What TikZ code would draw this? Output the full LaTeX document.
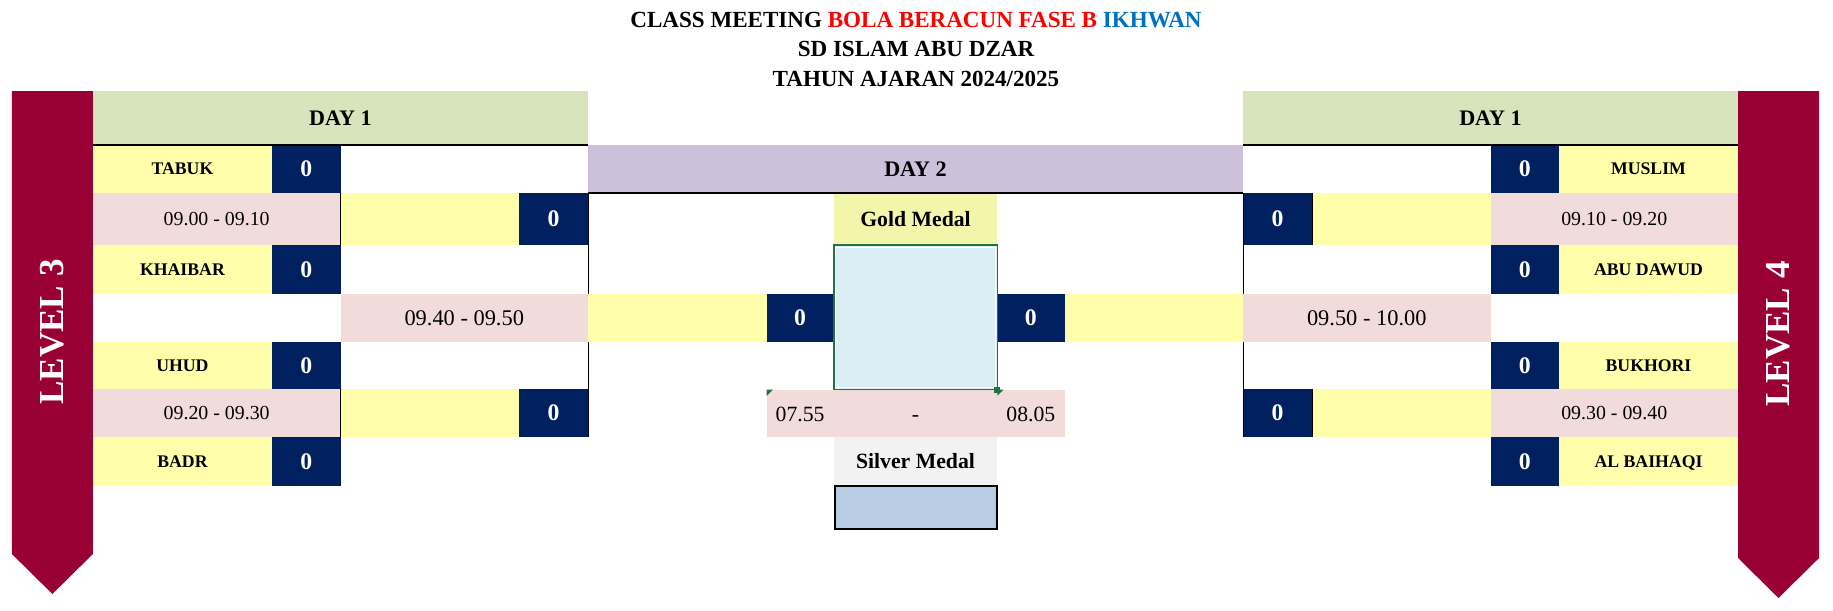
\documentclass[tikz,border=0pt]{standalone}
\usepackage{fontspec}
\setmainfont{Liberation Serif}
\usetikzlibrary{positioning}
\definecolor{bkmaroon}{RGB}{153,0,51}
\definecolor{bkgreen}{RGB}{216,228,188}
\definecolor{bkyellow}{RGB}{255,255,171}
\definecolor{bkpink}{RGB}{242,220,219}
\definecolor{bknavy}{RGB}{0,32,96}
\definecolor{bkpurple}{RGB}{204,192,218}
\definecolor{bkgold}{RGB}{243,246,170}
\definecolor{bkice}{RGB}{218,238,243}
\definecolor{bksilver}{RGB}{242,242,242}
\definecolor{bksteel}{RGB}{184,204,228}
\definecolor{xlgreen}{RGB}{33,115,70}
\definecolor{titlered}{RGB}{255,0,0}
\definecolor{titleblue}{RGB}{0,112,192}

\begin{document}
\begin{tikzpicture}[x=0.75pt,y=-0.75pt,
  titletext/.style={anchor=base,font=\bfseries\fontsize{17.3}{20}\selectfont},
  dayhead/.style={font=\bfseries\fontsize{16.6}{19}\selectfont},
  namecell/.style={fill=bkyellow,text depth=0pt,font=\bfseries\fontsize{13.3}{16}\selectfont},
  scorecell/.style={fill=bknavy,text=white,font=\bfseries\fontsize{17.8}{20}\selectfont},
  timecell/.style={fill=bkpink,font=\fontsize{14.9}{17}\selectfont},
  bigtime/.style={fill=bkpink,font=\fontsize{16.8}{19}\selectfont},
  medalcell/.style={font=\bfseries\fontsize{16.3}{19}\selectfont},
  medaltime/.style={anchor=base,font=\fontsize{16.3}{19}\selectfont},
  bannertext/.style={text=white,rotate=90,font=\bfseries\fontsize{26.3}{30}\selectfont},
  bracket/.style={black,line width=0.7pt},
  rule/.style={black,line width=1.5pt}]
  \useasboundingbox (0,0) rectangle (1833,610);
  % Title
  \node[titletext] (title) at (916,27.3) {CLASS MEETING \textcolor{titlered}{BOLA BERACUN FASE B} \textcolor{titleblue}{IKHWAN}};
  \node[titletext] (school) at (916,56.7) {SD ISLAM ABU DZAR};
  \node[titletext] (year) at (916,86) {TAHUN AJARAN 2024/2025};
  % Level banners
  \fill[bkmaroon] (11.9,91) -- (92.9,91) -- (92.9,554) -- (52.4,594) -- (11.9,554) -- cycle;
  \node[bannertext] (lvlthree) at (52.4,332) {LEVEL 3};
  \fill[bkmaroon] (1738,91) -- (1819,91) -- (1819,558) -- (1778.5,598) -- (1738,558) -- cycle;
  \node[bannertext] (lvlfour) at (1778.5,334) {LEVEL 4};
  % Day 1 headers
  \path[dayhead,fill=bkgreen] (92.9,91) rectangle node (dayoneL) {DAY 1} (588,145);
  \path[dayhead,fill=bkgreen] (1243,91) rectangle node (dayoneR) {DAY 1} (1738,145);
  % Left bracket
  \path[namecell] (92.9,145) rectangle node (tabuk) {TABUK} (272,193);
  \path[scorecell] (272,145) rectangle node (tabukS) {0} (340.5,193);
  \path[timecell] (92.9,193) rectangle node (timeA) {09.00 - 09.10} (340.5,245);
  \fill[bkyellow] (340.5,193) rectangle (519,245);
  \path[scorecell] (519,193) rectangle node (semiAS) {0} (588,245);
  \path[namecell] (92.9,245) rectangle node (khaibar) {KHAIBAR} (272,294);
  \path[scorecell] (272,245) rectangle node (khaibarS) {0} (340.5,294);
  \path[bigtime] (340.5,294) rectangle node (timeE) {09.40 - 09.50} (588,342);
  \fill[bkyellow] (588,294) rectangle (766.5,342);
  \path[scorecell] (766.5,294) rectangle node (finalAS) {0} (833.7,342);
  \path[namecell] (92.9,342) rectangle node (uhud) {UHUD} (272,389);
  \path[scorecell] (272,342) rectangle node (uhudS) {0} (340.5,389);
  \path[timecell] (92.9,389) rectangle node (timeC) {09.20 - 09.30} (340.5,437);
  \fill[bkyellow] (340.5,389) rectangle (519,437);
  \path[scorecell] (519,389) rectangle node (semiBS) {0} (588,437);
  \path[namecell] (92.9,437) rectangle node (badr) {BADR} (272,486);
  \path[scorecell] (272,437) rectangle node (badrS) {0} (340.5,486);
  % Right bracket
  \path[scorecell] (1490.5,145) rectangle node (muslimS) {0} (1559,193);
  \path[namecell] (1559,145) rectangle node (muslim) {MUSLIM} (1738,193);
  \path[scorecell] (1243,193) rectangle node (semiCS) {0} (1312,245);
  \fill[bkyellow] (1312,193) rectangle (1490.5,245);
  \path[timecell] (1490.5,193) rectangle node (timeB) {09.10 - 09.20} (1738,245);
  \path[scorecell] (1490.5,245) rectangle node (abudawudS) {0} (1559,294);
  \path[namecell] (1559,245) rectangle node (abudawud) {ABU DAWUD} (1738,294);
  \path[scorecell] (997.3,294) rectangle node (finalBS) {0} (1064.5,342);
  \fill[bkyellow] (1064.5,294) rectangle (1243,342);
  \path[bigtime] (1243,294) rectangle node (timeF) {09.50 - 10.00} (1490.5,342);
  \path[scorecell] (1490.5,342) rectangle node (bukhoriS) {0} (1559,389);
  \path[namecell] (1559,342) rectangle node (bukhori) {BUKHORI} (1738,389);
  \path[scorecell] (1243,389) rectangle node (semiDS) {0} (1312,437);
  \fill[bkyellow] (1312,389) rectangle (1490.5,437);
  \path[timecell] (1490.5,389) rectangle node (timeD) {09.30 - 09.40} (1738,437);
  \path[scorecell] (1490.5,437) rectangle node (baihaqiS) {0} (1559,486);
  \path[namecell] (1559,437) rectangle node (baihaqi) {AL BAIHAQI} (1738,486);
  % Day 2 and medals
  \path[dayhead,fill=bkpurple] (588,145) rectangle node (daytwo) {DAY 2} (1243,193);
  \path[medalcell,fill=bkgold] (833.7,193) rectangle node (gold) {Gold Medal} (997.3,245);
  \path[fill=bkice,draw=xlgreen,line width=1.2pt] (833.7,245) rectangle (997.3,389.5);
  \draw[white,line width=0.6pt] (835.8,247.1) rectangle (995.2,387.4);
  \fill[bkpink] (766.5,389.5) rectangle (1064.5,437);
  \node[medaltime] (startT) at (800.1,421) {07.55};
  \node[medaltime] (dashT) at (915.5,421) {-};
  \node[medaltime] (endT) at (1030.9,421) {08.05};
  \fill[xlgreen] (766.5,389.5) -- (773,389.5) -- (766.5,396) -- cycle;
  \fill[xlgreen] (997.3,389.5) -- (1003.5,389.5) -- (997.3,395.7) -- cycle;
  \fill[xlgreen] (994.3,386.5) rectangle (1000.3,392.5);
  \path[medalcell,fill=bksilver] (833.7,437) rectangle node (silver) {Silver Medal} (997.3,485);
  \path[fill=bksteel,draw=black,line width=1.5pt] (834.5,486) rectangle (996.5,528.5);
  % Bracket lines and rules
  \draw[bracket] (340.5,193) -- (340.5,245) (340.5,389) -- (340.5,437);
  \draw[bracket] (588,193) -- (588,294) (588,342) -- (588,437);
  \draw[bracket] (1243,193) -- (1243,294) (1243,342) -- (1243,437);
  \draw[bracket] (1312,193) -- (1312,245) (1312,389) -- (1312,437);
  \draw[rule] (92.9,145) -- (588,145);
  \draw[rule] (1243,145) -- (1738,145);
  \draw[rule] (588,193) -- (1243,193);
\end{tikzpicture}
\end{document}
